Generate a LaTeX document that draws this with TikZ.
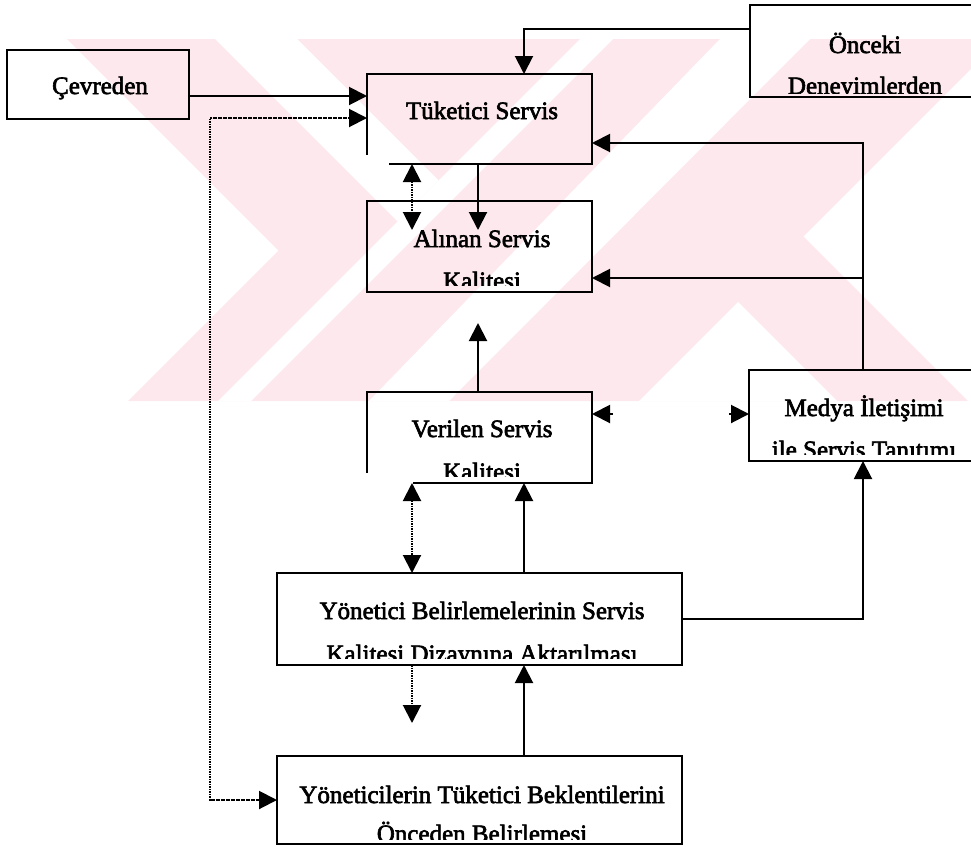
\documentclass[tikz,border=0pt]{standalone}
\usepackage{fontspec}
\setmainfont{Liberation Serif}[FakeBold=2.5]
\usetikzlibrary{arrows.meta,calc}
\definecolor{wm}{RGB}{253,233,237}
\begin{document}
\begin{tikzpicture}[x=1pt,y=-1pt,
  box/.style={draw, line width=2.2pt, inner sep=0pt, outer sep=0pt},
  frame/.style={draw=none, inner sep=0pt, outer sep=0pt},
  edge/.style={line width=2.2pt},
  conn/.style={line width=2pt},
  dots/.style={line width=2pt, dash pattern=on 1.6pt off 0.9pt},
  arr/.style={-{Triangle[length=18pt,width=18pt]}},
  darr/.style={{Triangle[length=18pt,width=18pt]}-{Triangle[length=18pt,width=18pt]}},
  lbl/.style={inner sep=0pt, anchor=base, font=\fontsize{25}{30}\selectfont}
]
\useasboundingbox (0,0) rectangle (971,846);
\clip (0,0) rectangle (971,846);

% faint background emblem: a pink band with white diagonal cuts
\fill[wm] (67,39) -- (971,39) -- (971,401) -- (128,401) -- (278.5,250.5) -- cycle;
\fill[white] (215,39) -- (297,39) -- (438.5,180.5) -- (397.5,221.5) -- cycle;
\fill[white] (580,39) -- (613,39) -- (251,401) -- (218,401) -- cycle;
\fill[white] (720,39) -- (810,39) -- (449,401) -- (369,401) -- cycle;
\fill[white] (639,401) -- (738,302) -- (837,401) -- cycle;
\fill[white] (971,69) -- (803.5,236.5) -- (971,404) -- cycle;

% boxes
\node[box, minimum width=182pt, minimum height=69pt] (cev) at (98,84.5) {};
\node[frame, minimum width=225pt, minimum height=90pt] (tuk) at (479.5,119) {};
\node[box, minimum width=225pt, minimum height=91pt] (aln) at (479.5,246.5) {};
\node[frame, minimum width=225pt, minimum height=91pt] (ver) at (479.5,437.5) {};
\node[box, minimum width=230pt, minimum height=92pt] (onc) at (865,51) {};
\node[box, minimum width=230pt, minimum height=91pt] (med) at (864,415.5) {};
\node[box, minimum width=405pt, minimum height=92pt] (ybel) at (479.5,619) {};
\node[box, minimum width=405pt, minimum height=88pt] (ybek) at (479.5,800) {};

% open-cornered frames
\draw[edge] ([yshift=9pt]tuk.south west) -- (tuk.north west) -- (tuk.north east)
  -- (tuk.south east) -- ([xshift=22pt]tuk.south west);
\draw[edge] ([yshift=10pt]ver.south west) -- (ver.north west) -- (ver.north east)
  -- (ver.south east) -- ([xshift=46pt]ver.south west);

% labels, cut off above the lower frame line
\node[lbl] at (100,94) {Çevreden};
\node[lbl] at (482,119) {Tüketici Servis};
\begin{scope}
  \clip (aln.north west) rectangle ($(aln.south east)+(0,-6.5)$);
  \node[lbl] at (482,247) {Alınan Servis};
  \node[lbl] at (482,289) {Kalitesi};
\end{scope}
\begin{scope}
  \clip (ver.north west) rectangle ($(ver.south east)+(0,-6.5)$);
  \node[lbl] at (482,437) {Verilen Servis};
  \node[lbl] at (482,480) {Kalitesi};
\end{scope}
\begin{scope}
  \clip (onc.north west) rectangle ($(onc.south east)+(0,-3.5)$);
  \node[lbl] at (865,53) {Önceki};
  \node[lbl] at (865,94) {Deneyimlerden};
\end{scope}
\begin{scope}
  \clip (med.north west) rectangle ($(med.south east)+(0,-6.5)$);
  \node[lbl] at (864,416) {Medya İletişimi};
  \node[lbl] at (864,458) {ile Servis Tanıtımı};
\end{scope}
\begin{scope}
  \clip (ybel.north west) rectangle ($(ybel.south east)+(0,-6.5)$);
  \node[lbl] at (482,619) {Yönetici Belirlemelerinin Servis};
  \node[lbl] at (482,662) {Kalitesi Dizaynına Aktarılması};
\end{scope}
\begin{scope}
  \clip (ybek.north west) rectangle ($(ybek.south east)+(0,-4.5)$);
  \node[lbl] at (482,803) {Yöneticilerin Tüketici Beklentilerini};
  \node[lbl] at (482,842) {Önceden Belirlemesi};
\end{scope}

% free ends of the short connectors
\coordinate (alnIn) at (478,230);
\coordinate (alnDot) at (412,230);
\coordinate (alnGap) at (478,323);
\coordinate (verStub) at (613,414);
\coordinate (medStub) at (729,414);
\coordinate (ybelDot) at (412,723);

% connectors
\draw[conn, arr] (cev.east |- 0,96) -- (tuk.west |- 0,96);
\draw[dots, darr] (tuk.west |- 0,118) -| (210,800) -- (ybek.west |- 0,800);
\draw[conn, arr] (onc.west |- 0,29) -| (tuk.north -| 524,0);
\draw[conn, arr] (med.north -| 863,0) |- (tuk.east |- 0,143);
\draw[conn, arr] (863,278) -- (aln.east |- 0,278);
\draw[conn, arr] (ybel.east |- 0,619) -| (med.south -| 863,0);
\draw[conn, arr] (tuk.south -| 478,0) -- (alnIn);
\draw[dots, darr] (tuk.south -| 412,0) -- (alnDot);
\draw[conn, arr] (ver.north -| 478,0) -- (alnGap);
\draw[conn, arr] (verStub) -- (ver.east |- 0,414);
\draw[conn, arr] (medStub) -- (med.west |- 0,414);
\draw[dots, darr] (ver.south -| 412,0) -- (ybel.north -| 412,0);
\draw[conn, arr] (ybel.north -| 524,0) -- (ver.south -| 524,0);
\draw[dots, arr] (ybel.south -| 412,0) -- (ybelDot);
\draw[conn, arr] (ybek.north -| 524,0) -- (ybel.south -| 524,0);
\end{tikzpicture}
\end{document}
